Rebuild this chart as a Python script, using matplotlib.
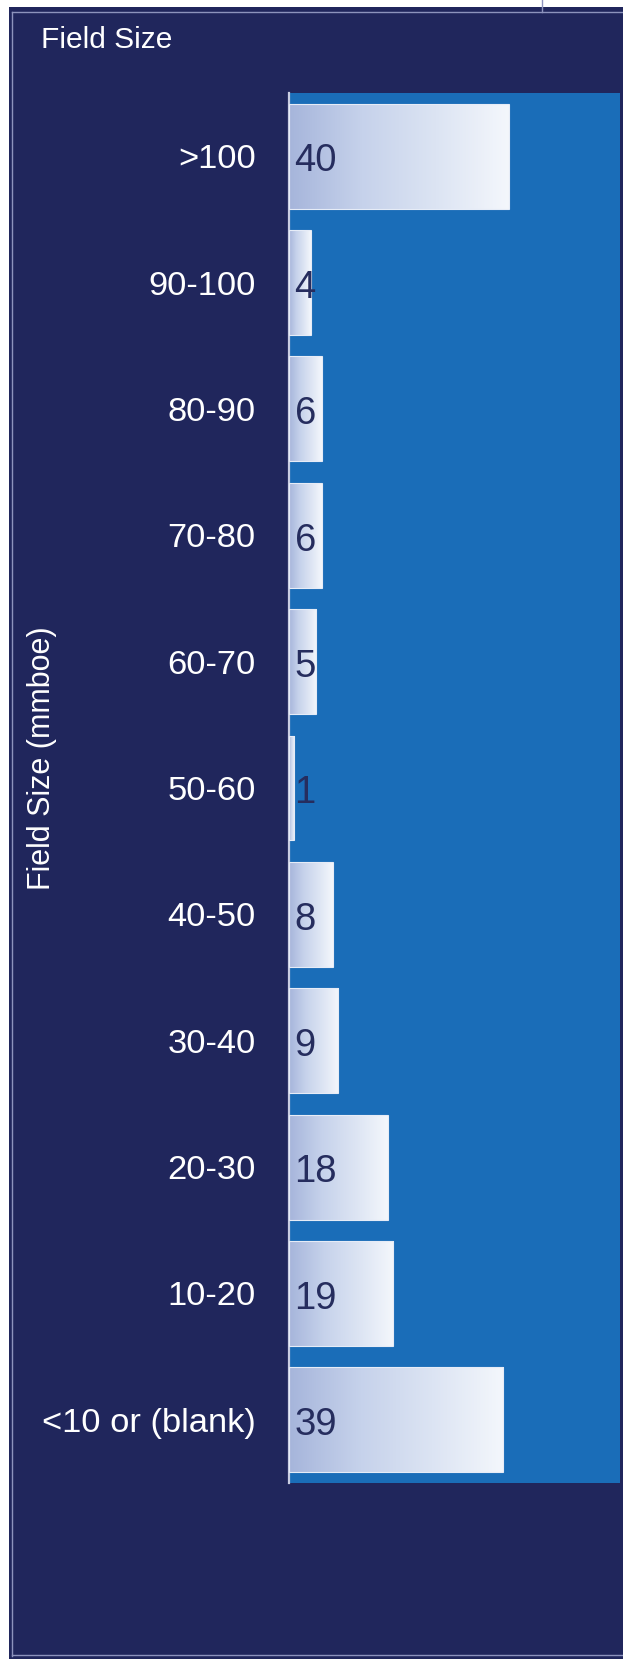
import numpy as np
import matplotlib
matplotlib.use("Agg")
import matplotlib.pyplot as plt
from matplotlib.colors import LinearSegmentedColormap
from matplotlib.patches import Rectangle
from matplotlib.lines import Line2D

categories = [">100", "90-100", "80-90", "70-80", "60-70", "50-60",
              "40-50", "30-40", "20-30", "10-20", "<10 or (blank)"]
counts = [40, 4, 6, 6, 5, 1, 8, 9, 18, 19, 39]

NAVY = "#20265c"
BLUE = "#1a6db8"
TEXT_DARK = "#262d5e"

plt.rcParams["font.family"] = ["Liberation Sans", "DejaVu Sans"]

fig = plt.figure(figsize=(6.23, 16.59), dpi=100, facecolor="white")

# dark panel behind everything, with a thin light inner frame
W, H = 623, 1659
fig.patches.append(Rectangle((9 / W, 0), 1 - 9 / W, 1 - 7 / H,
                             transform=fig.transFigure, facecolor=NAVY,
                             edgecolor="none", zorder=-2))
frame = dict(transform=fig.transFigure, color="#8d93bd", lw=1.0, zorder=-1)
fig.lines.append(Line2D([12 / W, 12 / W], [0.002, 1 - 12 / H], **frame))
fig.lines.append(Line2D([12 / W, 1], [1 - 12 / H, 1 - 12 / H], **frame))
fig.lines.append(Line2D([12 / W, 1], [0.0025, 0.0025], **frame))
fig.lines.append(Line2D([542 / W, 542 / W], [1 - 12 / H, 1], **frame))

ax = fig.add_axes([289 / W, 1 - 1483 / H, 331 / W, 1390 / H])
ax.set_facecolor(BLUE)

y = np.arange(len(categories))[::-1]
bar_h = 0.83
bars = ax.barh(y, counts, height=bar_h, color="none",
               edgecolor="#e6ecf7", linewidth=0.8, zorder=3)

grad_cmap = LinearSegmentedColormap.from_list(
    "bar_grad", ["#a6b5db", "#c6d2eb", "#dce4f3", "#f4f7fc"])
grad = np.linspace(0, 1, 256).reshape(1, -1)
for bar, val, yi in zip(bars, counts, y):
    im = ax.imshow(grad, cmap=grad_cmap, aspect="auto", zorder=2,
                   extent=[0, val, yi - bar_h / 2, yi + bar_h / 2])
    im.set_clip_path(bar)
    ax.annotate(str(val), (0, yi), xytext=(4, -11), textcoords="offset points",
                ha="left", va="baseline", fontsize=27.5, color=TEXT_DARK,
                zorder=4)

ax.set_xlim(0, 60.2)
ax.set_ylim(-0.5, len(categories) - 0.5)
ax.set_xticks([])
ax.set_yticks(y)
ax.set_yticklabels(categories, fontsize=24.8, color="white")
ax.tick_params(axis="y", length=0, pad=24)
for side in ["top", "right", "bottom"]:
    ax.spines[side].set_visible(False)
ax.spines["left"].set_color("#c9cde2")
ax.spines["left"].set_linewidth(1.6)

fig.text(41 / W, 1 - 48 / H, "Field Size", fontsize=21.5, color="white",
         ha="left", va="baseline")
fig.text(42 / W, 1 - 758 / H, "Field Size (mmboe)", fontsize=22,
         color="white", rotation=90, ha="center", va="center")

fig.savefig("out.png", dpi=100, facecolor=fig.get_facecolor())
